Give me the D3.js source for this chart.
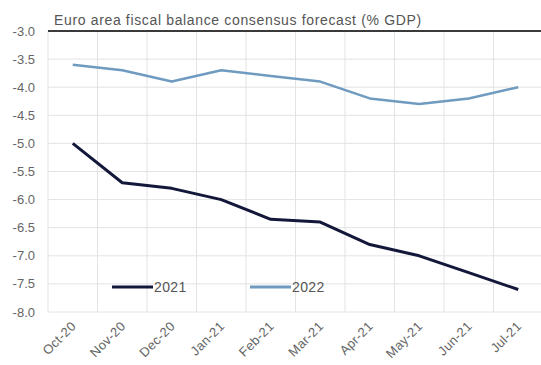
<!DOCTYPE html>
<html>
<head>
<meta charset="utf-8">
<script src="https://cdn.jsdelivr.net/npm/d3@7"></script>
<style>
  body { margin: 0; background: #fff; }
  svg { display: block; font-family: "Liberation Sans", Arial, sans-serif; }
</style>
</head>
<body>
<svg id="chart" width="541" height="365"></svg>
<script>
var months = ["Oct-20", "Nov-20", "Dec-20", "Jan-21", "Feb-21", "Mar-21", "Apr-21", "May-21", "Jun-21", "Jul-21"]
var fc2021 = [-5.0, -5.7, -5.8, -6.0, -6.35, -6.4, -6.8, -7.0, -7.3, -7.6]
var fc2022 = [-3.6, -3.7, -3.9, -3.7, -3.8, -3.9, -4.2, -4.3, -4.2, -4.0]
var yTicks = [-3.0, -3.5, -4.0, -4.5, -5.0, -5.5, -6.0, -6.5, -7.0, -7.5, -8.0]

var margin = { top: 31, left: 48, bottom: 53, right: -2 }
var svg = d3.select("#chart")
var width = 541 - margin.left - margin.right
var height = 365 - margin.top - margin.bottom

var g = svg.append("g")
    .attr("transform", `translate(${margin.left},${margin.top})`)

var X_scale = d3.scaleBand().domain(months).range([0, width])
var Y_scale = d3.scaleLinear().domain([-8, -3]).range([height, 0])

// grid
g.selectAll(".hgrid").data(yTicks).join("line")
    .attr("x1", 0).attr("x2", width)
    .attr("y1", d => Y_scale(d)).attr("y2", d => Y_scale(d))
    .attr("stroke", "#e3e3e3").attr("stroke-width", 1)

var bounds = months.map(m => X_scale(m)).concat([width])
g.selectAll(".vgrid").data(bounds).join("line")
    .attr("x1", d => d).attr("x2", d => d)
    .attr("y1", 0).attr("y2", height)
    .attr("stroke", "#e3e3e3").attr("stroke-width", 1)

// top rule
g.append("line")
    .attr("x1", 0).attr("x2", width + 2)
    .attr("y1", 0).attr("y2", 0)
    .attr("stroke", "#3a3a3a").attr("stroke-width", 2)

// y labels
g.selectAll(".ylab").data(yTicks).join("text")
    .attr("x", -13).attr("y", d => Y_scale(d))
    .attr("dy", "0.35em")
    .attr("text-anchor", "end")
    .attr("font-size", 13)
    .attr("fill", "#666")
    .text(d => d3.format(".1f")(d).replace("−", "-"))

// x labels
g.selectAll(".xlab").data(months).join("text")
    .attr("transform", d => `translate(${X_scale(d) + X_scale.bandwidth() / 2 + 4},${height + 15}) rotate(-45)`)
    .attr("text-anchor", "end")
    .attr("font-size", 13)
    .attr("letter-spacing", 0.3)
    .attr("fill", "#666")
    .text(d => d)

var line = d3.line()
    .x((d, i) => X_scale(months[i]) + X_scale.bandwidth() / 2)
    .y(d => Y_scale(d))

g.append("path").datum(fc2022)
    .attr("d", line).attr("fill", "none")
    .attr("stroke", "#6f9bc0").attr("stroke-width", 2.5)
    .attr("stroke-linejoin", "round")

g.append("path").datum(fc2021)
    .attr("d", line).attr("fill", "none")
    .attr("stroke", "#13183a").attr("stroke-width", 3)
    .attr("stroke-linejoin", "round")

// legend
var legend = [
    { name: "2021", color: "#13183a", x: 112 },
    { name: "2022", color: "#6f9bc0", x: 250 }
]
var lg = svg.selectAll(".legend").data(legend).join("g")
    .attr("transform", d => `translate(${d.x},287)`)
lg.append("line")
    .attr("x1", 0).attr("x2", 41).attr("y1", 0).attr("y2", 0)
    .attr("stroke", d => d.color).attr("stroke-width", 3)
lg.append("text")
    .attr("x", 42).attr("dy", "0.35em")
    .attr("font-size", 14).attr("letter-spacing", 0.4).attr("fill", "#555")
    .text(d => d.name)

// title
svg.append("text")
    .attr("x", 54).attr("y", 25)
    .attr("font-size", 14).attr("letter-spacing", 0.65).attr("fill", "#555")
    .text("Euro area fiscal balance consensus forecast (% GDP)")
</script>
</body>
</html>
